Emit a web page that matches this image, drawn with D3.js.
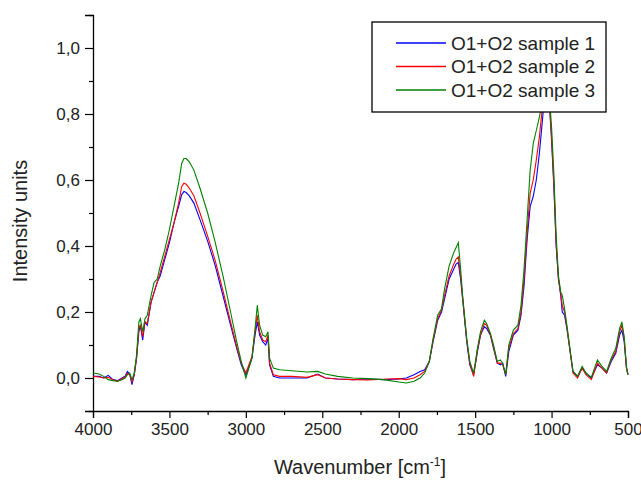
<!DOCTYPE html>
<html lang="en">
<head>
<meta charset="UTF-8">
<script src="https://d3js.org/d3.v7.min.js"></script>
<style>
  body { margin: 0; background: #fff; }
  svg text { font-family: "Liberation Sans", Arial, sans-serif; fill: #222; }
</style>
</head>
<body>
<div id="visualization"></div>
<script>
// wavenumbers [cm-1] shared by all samples
const wavenumbers = [4000, 3960, 3930, 3900, 3870, 3840, 3810, 3790, 3775, 3760, 3745, 3730, 3715, 3700, 3690, 3675, 3660, 3645, 3620, 3600,
  3580, 3560, 3530, 3500, 3470, 3440, 3420, 3405, 3390, 3370, 3340, 3300, 3250, 3200, 3150, 3100, 3060, 3030, 3000, 2960,
  2940, 2925, 2910, 2890, 2870, 2855, 2845, 2820, 2780, 2700, 2600, 2530, 2480, 2400, 2300, 2200, 2100, 2000, 1950, 1900,
  1860, 1830, 1800, 1775, 1745, 1720, 1700, 1670, 1640, 1625, 1610, 1595, 1580, 1555, 1535, 1510, 1485, 1465, 1440, 1425,
  1400, 1380, 1355, 1335, 1320, 1300, 1280, 1250, 1220, 1200, 1180, 1160, 1140, 1120, 1100, 1080, 1060, 1045, 1030, 1015,
  1000, 985, 970, 955, 940, 930, 915, 900, 880, 860, 830, 800, 775, 740, 700, 670, 640, 610, 580, 555,
  540, 525, 510, 500];

const sample1 = [0.005, 0.005, 0.0, 0.008, -0.005, -0.008, 0.0, 0.005, 0.02, 0.012, -0.02, 0.01, 0.06, 0.14, 0.16, 0.115, 0.17, 0.16, 0.23, 0.26,
  0.29, 0.31, 0.36, 0.41, 0.47, 0.52, 0.555, 0.565, 0.562, 0.552, 0.53, 0.48, 0.415, 0.34, 0.25, 0.16, 0.09, 0.04, 0.008, 0.06,
  0.13, 0.17, 0.13, 0.11, 0.1, 0.12, 0.04, 0.005, 0.0, 0.0, 0.0, 0.012, 0.0, -0.003, -0.005, -0.003, -0.005, -0.003, 0.0, 0.01,
  0.02, 0.025, 0.05, 0.11, 0.175, 0.2, 0.24, 0.3, 0.33, 0.345, 0.35, 0.3, 0.23, 0.11, 0.04, 0.01, 0.08, 0.13, 0.155, 0.15,
  0.13, 0.09, 0.045, 0.04, 0.045, 0.005, 0.08, 0.13, 0.145, 0.19, 0.28, 0.42, 0.52, 0.55, 0.6, 0.68, 0.78, 0.86, 0.88, 0.84,
  0.72, 0.58, 0.4, 0.3, 0.25, 0.2, 0.19, 0.15, 0.085, 0.02, 0.005, 0.03, 0.015, 0.0, 0.04, 0.03, 0.015, 0.05, 0.075, 0.13,
  0.145, 0.11, 0.03, 0.01];

const sample2 = [0.005, 0.003, 0.0, 0.002, -0.005, -0.01, -0.002, 0.003, 0.015, 0.01, -0.012, 0.01, 0.06, 0.15, 0.16, 0.125, 0.17, 0.165, 0.23, 0.26,
  0.29, 0.32, 0.37, 0.42, 0.47, 0.53, 0.58, 0.59, 0.587, 0.575, 0.552, 0.5, 0.43, 0.355, 0.265, 0.17, 0.095, 0.045, 0.015, 0.065,
  0.14, 0.19, 0.14, 0.115, 0.11, 0.13, 0.045, 0.01, 0.005, 0.005, 0.002, 0.01, 0.0, -0.003, -0.005, -0.006, -0.004, -0.002, -0.005, 0.0,
  0.01, 0.02, 0.05, 0.115, 0.18, 0.205, 0.25, 0.31, 0.345, 0.36, 0.367, 0.31, 0.235, 0.115, 0.045, 0.005, 0.085, 0.13, 0.165, 0.16,
  0.13, 0.095, 0.045, 0.045, 0.04, 0.01, 0.09, 0.135, 0.15, 0.2, 0.3, 0.44, 0.56, 0.6, 0.66, 0.73, 0.82, 0.87, 0.88, 0.84,
  0.73, 0.59, 0.41, 0.3, 0.255, 0.22, 0.2, 0.155, 0.085, 0.015, 0.0, 0.03, 0.01, -0.005, 0.045, 0.03, 0.015, 0.055, 0.08, 0.14,
  0.16, 0.12, 0.03, 0.01];

const sample3 = [0.015, 0.012, 0.005, -0.005, -0.008, -0.01, -0.005, 0.0, 0.01, 0.015, -0.005, 0.015, 0.07, 0.17, 0.18, 0.14, 0.18, 0.19, 0.25, 0.29,
  0.3, 0.34, 0.39, 0.45, 0.52, 0.59, 0.65, 0.665, 0.665, 0.655, 0.63, 0.575, 0.5, 0.41, 0.31, 0.2, 0.11, 0.05, 0.0, 0.06,
  0.15, 0.22, 0.16, 0.13, 0.125, 0.14, 0.06, 0.03, 0.025, 0.022, 0.018, 0.02, 0.012, 0.005, 0.0, -0.002, -0.005, -0.012, -0.015, -0.01,
  0.0, 0.015, 0.05, 0.12, 0.19, 0.21, 0.27, 0.34, 0.38, 0.395, 0.41, 0.33, 0.24, 0.12, 0.05, 0.015, 0.09, 0.14, 0.175, 0.165,
  0.135, 0.1, 0.05, 0.055, 0.045, 0.01, 0.1, 0.145, 0.16, 0.22, 0.33, 0.48, 0.63, 0.71, 0.75, 0.79, 0.84, 0.88, 0.89, 0.86,
  0.76, 0.62, 0.43, 0.31, 0.26, 0.25, 0.21, 0.16, 0.09, 0.02, 0.005, 0.035, 0.015, 0.002, 0.055, 0.035, 0.02, 0.06, 0.09, 0.15,
  0.17, 0.125, 0.035, 0.01];

const seriesNames = ["O1+O2 sample 1", "O1+O2 sample 2", "O1+O2 sample 3"];
const seriesColors = ["#0000ff", "#ff0000", "#008000"];
const xTicks = [4000, 3500, 3000, 2500, 2000, 1500, 1000, 500];
const yTicks = [0.0, 0.2, 0.4, 0.6, 0.8, 1.0];

const svgWidth = 641, svgHeight = 481;
const margin = { top: 15, right: 13, bottom: 70, left: 93 };
const width = svgWidth - margin.left - margin.right,
      height = svgHeight - margin.top - margin.bottom;

const svg = d3.select('#visualization').append('svg')
    .attr('width', svgWidth)
    .attr('height', svgHeight);
const g = svg.append('g')
    .attr('transform', 'translate(' + margin.left + ',' + margin.top + ')');

const xScale = d3.scaleLinear().domain([4000, 500]).range([0, width]);
const yScale = d3.scaleLinear().domain([-0.1, 1.1]).range([height, 0]);

// minor ticks first, then major with labels
g.append('g')
    .attr('transform', 'translate(0,' + height + ')')
    .call(d3.axisBottom(xScale).tickValues(d3.range(3750, 500, -500)).tickSize(4).tickFormat(''))
    .call(a => a.select('.domain').remove());
g.append('g')
    .attr('transform', 'translate(0,' + height + ')')
    .call(d3.axisBottom(xScale).tickValues(xTicks).tickSize(7).tickPadding(5).tickFormat(d3.format('d')))
    .call(a => a.selectAll('text').attr('font-size', 17).attr('fill', '#222'));

g.append('g')
    .call(d3.axisLeft(yScale).tickValues(d3.range(-0.1, 1.15, 0.2)).tickSize(4).tickFormat(''))
    .call(a => a.select('.domain').remove());
g.append('g')
    .call(d3.axisLeft(yScale).tickValues(yTicks).tickSize(8).tickPadding(5)
        .tickFormat(d => d3.format('.1f')(d).replace('.', ',')))
    .call(a => a.selectAll('text').attr('font-size', 17).attr('fill', '#222'));

g.selectAll('.domain').attr('stroke', '#000').attr('stroke-width', 1.3);
g.selectAll('.tick line').attr('stroke', '#000').attr('stroke-width', 1.2);

const line = d3.line()
    .x((d, i) => xScale(wavenumbers[i]))
    .y(d => yScale(d));

[sample1, sample2, sample3].forEach((s, k) => {
    g.append('path')
        .datum(s)
        .attr('fill', 'none')
        .attr('stroke', seriesColors[k])
        .attr('stroke-width', 1.1)
        .attr('d', line);
});

// legend
const legend = svg.append('g').attr('transform', 'translate(372,22)');
legend.append('rect')
    .attr('width', 234).attr('height', 90)
    .attr('fill', '#fff').attr('stroke', '#000').attr('stroke-width', 1.3);
seriesNames.forEach((name, k) => {
    const y = 21 + k * 23.5;
    legend.append('line')
        .attr('x1', 24).attr('x2', 74).attr('y1', y).attr('y2', y)
        .attr('stroke', seriesColors[k]).attr('stroke-width', 1.3);
    legend.append('text')
        .attr('x', 79).attr('y', y).attr('dy', '0.36em')
        .attr('font-size', 19)
        .text(name);
});

// axis titles
svg.append('text')
    .attr('x', 360).attr('y', 474)
    .attr('text-anchor', 'middle').attr('font-size', 20)
    .text('Wavenumber [cm')
    .append('tspan').attr('dy', -8).attr('font-size', 12).text('-1')
    .select(function() { return this.parentNode; })
    .append('tspan').attr('dy', 8).attr('font-size', 20).text(']');

svg.append('text')
    .attr('transform', 'translate(27,' + 221 + ') rotate(-90)')
    .attr('text-anchor', 'middle').attr('font-size', 20)
    .text('Intensity units');
</script>
</body>
</html>
